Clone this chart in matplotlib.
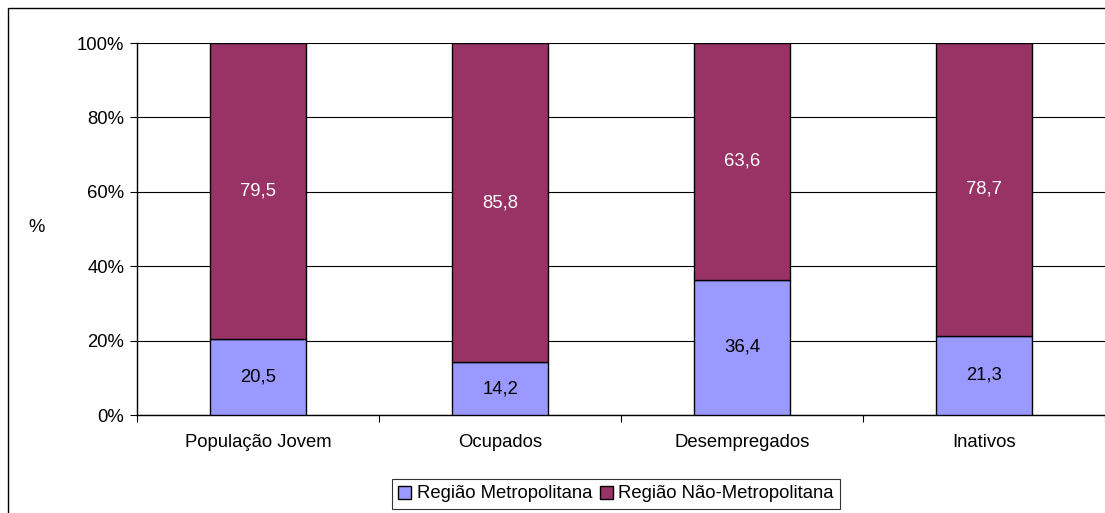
import matplotlib
matplotlib.use("Agg")
import matplotlib.pyplot as plt
import numpy as np
from matplotlib.patches import Rectangle

plt.rcParams['font.family'] = ['Liberation Sans', 'DejaVu Sans']

categories = ["População Jovem", "Ocupados", "Desempregados", "Inativos"]
metropolitana = [20.5, 14.2, 36.4, 21.3]
nao_metropolitana = [79.5, 85.8, 63.6, 78.7]
yticks = [0, 20, 40, 60, 80, 100]
ytick_labels = ["0%", "20%", "40%", "60%", "80%", "100%"]

FS = 13.3
W, H = 1105, 513
fig = plt.figure(figsize=(W / 100, H / 100), dpi=100)
ax = fig.add_axes([137 / W, (H - 415) / H, (W - 137) / W, 372 / H])

x = np.arange(len(categories))
b1 = ax.bar(x, metropolitana, width=0.4, color="#9999FF", edgecolor="black",
            linewidth=1, label="Região Metropolitana", zorder=3)
b2 = ax.bar(x, nao_metropolitana, width=0.4, bottom=metropolitana, color="#993366",
            edgecolor="black", linewidth=1, label="Região Não-Metropolitana", zorder=3)

for i in range(len(categories)):
    ax.text(x[i], metropolitana[i] / 2, f"{metropolitana[i]:.1f}".replace(".", ","),
            ha="center", va="center", fontsize=FS, color="black", zorder=4)
    ax.text(x[i], metropolitana[i] + nao_metropolitana[i] / 2,
            f"{nao_metropolitana[i]:.1f}".replace(".", ","),
            ha="center", va="center", fontsize=FS, color="white", zorder=4)

ax.set_xlim(-0.5, len(categories) - 0.5)
ax.set_ylim(0, 100)
ax.set_yticks(yticks)
ax.set_yticklabels(ytick_labels, fontsize=FS)
ax.yaxis.grid(True, color="black", linewidth=0.8, zorder=0)

# category ticks sit on the boundaries, labels in the middle
ax.set_xticks(np.arange(len(categories) + 1) - 0.5)
ax.set_xticklabels([])
ax.set_xticks(x, minor=True)
ax.set_xticklabels(categories, minor=True, fontsize=FS)
ax.tick_params(axis="x", which="minor", length=0, pad=14)
ax.tick_params(axis="x", which="major", length=5, direction="out", color="black")
ax.tick_params(axis="y", length=5, direction="out", pad=4)

for s in ["top", "right"]:
    ax.spines[s].set_visible(False)
ax.spines["left"].set_linewidth(1)
ax.spines["bottom"].set_linewidth(1)

fig.text(37 / W, 1 - 228 / H, "%", fontsize=FS, ha="center", va="center")

leg = fig.legend(handles=[b1, b2], loc="center", bbox_to_anchor=(616 / W, 1 - 494 / H),
                 ncol=2, fontsize=FS, frameon=True, fancybox=False, edgecolor="black",
                 handlelength=0.7, handleheight=0.7, handletextpad=0.3, columnspacing=0.4,
                 borderpad=0.35)
leg.get_frame().set_linewidth(0.8)

# outer chart border
fig.patches.append(Rectangle((8 / W, -0.1), 1.2, 1.1 - 8 / H, transform=fig.transFigure,
                             fill=False, edgecolor="black", linewidth=1))

fig.savefig("out.png", dpi=100)
